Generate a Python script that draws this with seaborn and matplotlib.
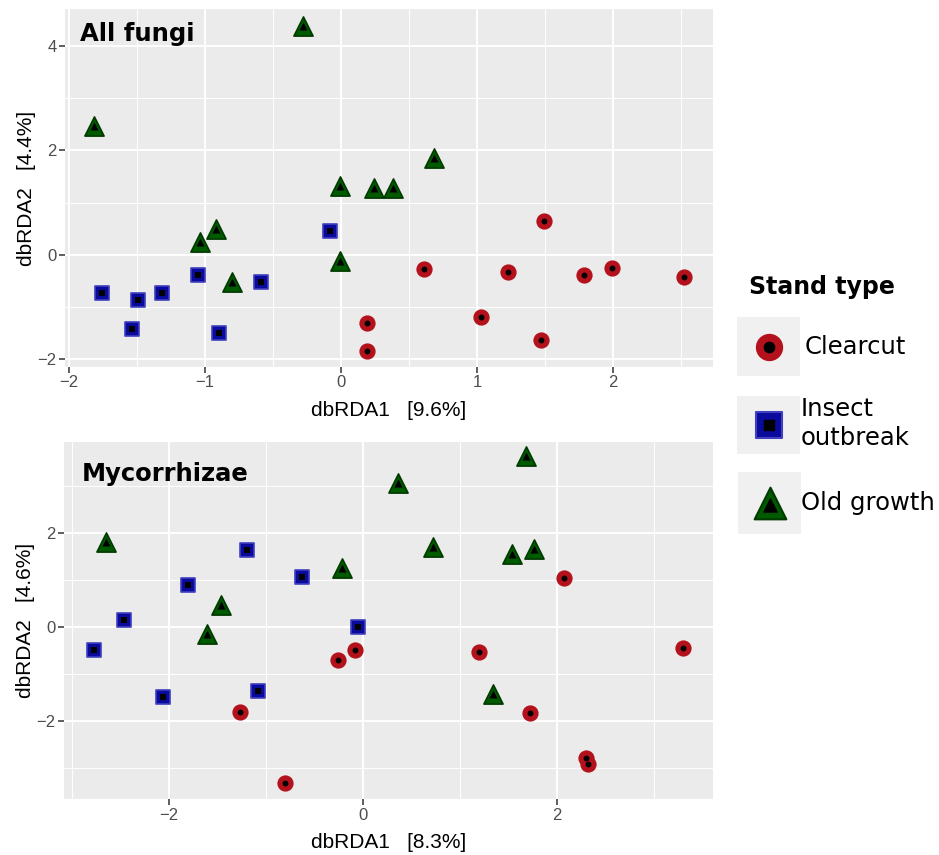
#dbRDA ordination plots - all fungi and mycorrhizae

import numpy as np
import pandas as pd
import seaborn as sns
import matplotlib.pyplot as plt

#data
stand_types = ['Clearcut', 'Insect outbreak', 'Old growth']

#all fungi
fungi_clear_x = [1.49, 0.61, 1.23, 1.79, 1.99, 2.52, 1.03, 0.19, 1.47, 0.19]
fungi_clear_y = [0.65, -0.27, -0.33, -0.38, -0.25, -0.42, -1.19, -1.30, -1.64, -1.84]
fungi_insect_x = [-0.08, -1.05, -0.59, -1.76, -1.32, -1.49, -1.54, -0.90]
fungi_insect_y = [0.46, -0.38, -0.52, -0.73, -0.73, -0.86, -1.42, -1.49]
fungi_old_x = [-0.28, -1.82, 0.68, -0.01, 0.24, 0.38, -0.92, -1.04, -0.01, -0.80]
fungi_old_y = [4.39, 2.47, 1.86, 1.32, 1.28, 1.28, 0.50, 0.25, -0.11, -0.52]

#mycorrhizae
myc_clear_x = [2.07, -0.26, -0.08, 1.20, 3.30, -1.27, 1.72, 2.30, 2.32, -0.80]
myc_clear_y = [1.05, -0.70, -0.48, -0.53, -0.44, -1.80, -1.82, -2.78, -2.91, -3.31]
myc_insect_x = [-1.19, -0.63, -1.80, -2.46, -2.77, -0.05, -1.08, -2.06]
myc_insect_y = [1.64, 1.07, 0.90, 0.16, -0.48, 0.00, -1.35, -1.48]
myc_old_x = [1.68, 0.36, 0.72, 1.54, 1.76, -0.21, -2.65, -1.46, -1.61, 1.34]
myc_old_y = [3.65, 3.07, 1.71, 1.56, 1.66, 1.26, 1.81, 0.47, -0.14, -1.42]


def make_df(cx, cy, ix, iy, ox, oy):
    return pd.DataFrame({
        'dbRDA1': cx + ix + ox,
        'dbRDA2': cy + iy + oy,
        'Stand type': ['Clearcut'] * len(cx) + ['Insect outbreak'] * len(ix) + ['Old growth'] * len(ox),
    })


fungi = make_df(fungi_clear_x, fungi_clear_y, fungi_insect_x, fungi_insect_y, fungi_old_x, fungi_old_y)
myc = make_df(myc_clear_x, myc_clear_y, myc_insect_x, myc_insect_y, myc_old_x, myc_old_y)

colours = {'Clearcut': '#B3121C', 'Insect outbreak': '#0A0A9C', 'Old growth': '#005A00'}
edges = {'Clearcut': '#B3121C', 'Insect outbreak': '#4040C0', 'Old growth': '#003A00'}
markers = {'Clearcut': 'o', 'Insect outbreak': 's', 'Old growth': '^'}
outer_sizes = {'Clearcut': 110, 'Insect outbreak': 105, 'Old growth': 190}
inner_sizes = {'Clearcut': 18, 'Insect outbreak': 14, 'Old growth': 34}

sns.set_style('darkgrid', {'axes.facecolor': '#EBEBEB', 'grid.color': 'white'})
plt.rcParams['font.family'] = ['Liberation Sans', 'DejaVu Sans']
plt.rcParams['text.color'] = 'black'
plt.rcParams['axes.labelcolor'] = 'black'

fig = plt.figure(figsize=(9.39, 8.55), dpi=100)
ax1 = fig.add_axes([0.0692, 0.5708, 0.6901, 0.4187])
ax2 = fig.add_axes([0.0682, 0.0651, 0.6911, 0.4179])

panels = [
    (ax1, fungi, 'All fungi', (0.0852, 0.974), 'dbRDA1   [9.6%]', 'dbRDA2   [4.4%]',
     (-2.03, 2.735), (-2.15, 4.71), [-2, -1, 0, 1, 2], [-2, 0, 2, 4],
     [-1.5, -0.5, 0.5, 1.5, 2.5], [-1, 1, 3]),
    (ax2, myc, 'Mycorrhizae', (0.0873, 0.460), 'dbRDA1   [8.3%]', 'dbRDA2   [4.6%]',
     (-3.08, 3.61), (-3.66, 3.94), [-2, 0, 2], [-2, 0, 2],
     [-3, -1, 1, 3], [-3, -1, 1, 3]),
]

for ax, df, title, tpos, xl, yl, xlim, ylim, xt, yt, xmin, ymin in panels:
    for st in stand_types:
        sub = df[df['Stand type'] == st]
        sns.scatterplot(data=sub, x='dbRDA1', y='dbRDA2', marker=markers[st],
                        s=outer_sizes[st], color=colours[st], edgecolor=edges[st],
                        linewidth=1.2, ax=ax, legend=False, zorder=3)
        sns.scatterplot(data=sub, x='dbRDA1', y='dbRDA2', marker=markers[st],
                        s=inner_sizes[st], color='black', edgecolor='black',
                        linewidth=0, ax=ax, legend=False, zorder=4)
    ax.set_xlim(xlim)
    ax.set_ylim(ylim)
    ax.set_xticks(xt)
    ax.set_yticks(yt)
    ax.set_xticks(xmin, minor=True)
    ax.set_yticks(ymin, minor=True)
    ax.grid(which='major', color='white', lw=1.4)
    ax.grid(which='minor', color='white', lw=0.7)
    ax.tick_params(which='major', length=4, width=1.1, color='#333333', labelcolor='#4D4D4D',
                   labelsize=12, pad=2, bottom=True, left=True)
    ax.tick_params(which='minor', length=0)
    ax.set_xlabel(xl, fontsize=15, labelpad=7.5)
    ax.set_ylabel(yl, fontsize=15, labelpad=1)
    for sp in ax.spines.values():
        sp.set_visible(False)
    fig.text(tpos[0], tpos[1], title, fontsize=17.5, fontweight='bold', family='DejaVu Sans',
             va='top', ha='left')

#legend
fig.text(0.798, 0.664, 'Stand type', fontsize=17, fontweight='bold', family='DejaVu Sans',
         va='center')
key_boxes = [(0.785, 0.560, 0.067, 0.069), (0.785, 0.469, 0.067, 0.068), (0.786, 0.375, 0.067, 0.0725)]
text_pos = [(0.857, 0.594), (0.853, 0.505), (0.853, 0.412)]
leg_sizes = {'Clearcut': 330, 'Insect outbreak': 360, 'Old growth': 520}
leg_inner = {'Clearcut': 55, 'Insect outbreak': 50, 'Old growth': 90}
leg_labels = {'Clearcut': 'Clearcut', 'Insect outbreak': 'Insect\noutbreak', 'Old growth': 'Old growth'}
for st, box, tp in zip(stand_types, key_boxes, text_pos):
    kax = fig.add_axes(box)
    kax.set_facecolor('#F0F0F0')
    kax.scatter([0], [0], marker=markers[st], s=leg_sizes[st], c=colours[st],
                edgecolors=edges[st], linewidths=1.5, zorder=3)
    kax.scatter([0], [-0.05 if st == 'Old growth' else 0], marker=markers[st],
                s=leg_inner[st], c='black', zorder=4)
    kax.set_xlim(-1, 1)
    kax.set_ylim(-1, 1)
    kax.set_xticks([])
    kax.set_yticks([])
    kax.grid(False)
    for sp in kax.spines.values():
        sp.set_visible(False)
    fig.text(tp[0], tp[1], leg_labels[st], fontsize=17.5, family='DejaVu Sans',
             va='center', ha='left', linespacing=1.25)

plt.savefig('out.png', dpi=100)
